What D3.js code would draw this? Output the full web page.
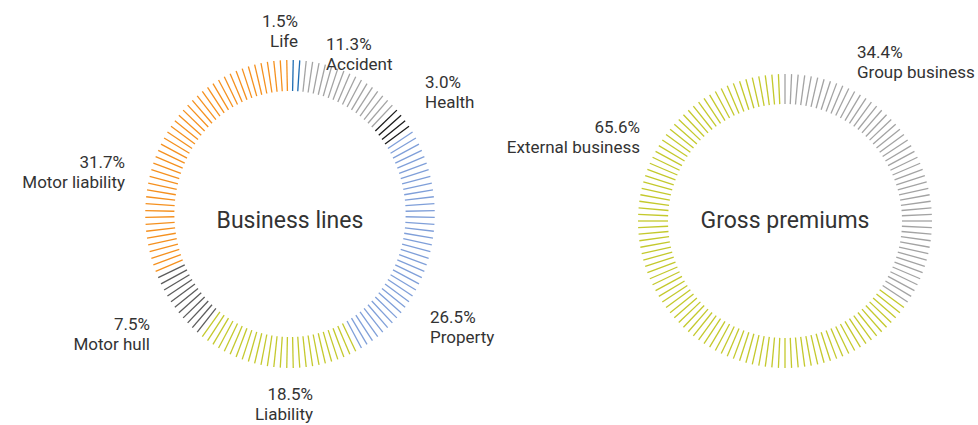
<!DOCTYPE html>
<html>
<head>
<meta charset="utf-8">
<script src="https://cdn.jsdelivr.net/npm/d3@7"></script>
<style>
  body { margin: 0; background: #fff; }
  text { font-family: Roboto, "Noto Sans", sans-serif; fill: #333; }
</style>
</head>
<body>
<script>
"use strict";

///////////////////
// data
///////////////////

var lineNames = ["Life", "Accident", "Health", "Property", "Liability", "Motor hull", "Motor liability"];
var lineShares = [1.5, 11.3, 3.0, 26.5, 18.5, 7.5, 31.7];
var lineColors = ["#1f6db3", "#a3a3a3", "#1a1a1a", "#7f9fd9", "#c4c92c", "#5c5c5c", "#f5901e"];

var premiumNames = ["Group business", "External business"];
var premiumShares = [34.4, 65.6];
var premiumColors = ["#a3a3a3", "#c4c92c"];

var ticksPerRing = 140;

///////////////////
// functions
///////////////////

// which pie slice holds a given angle
function sliceAt(arcs, angle) {
    for (var i = 0; i < arcs.length; i++) {
        if (angle >= arcs[i].startAngle && angle < arcs[i].endAngle) return arcs[i];
    }
    return arcs[arcs.length - 1];
}

function drawRing(svg, cfg) {
    var pie = d3.pie().sort(null).value(function(d) { return d.share; });
    var arcs = pie(cfg.names.map(function(n, i) {
        return { "name": n, "share": cfg.shares[i], "color": cfg.colors[i] };
    }));

    // tick index -> angle
    var angle = d3.scaleLinear()
        .domain([0, ticksPerRing])
        .range([0, 2 * Math.PI]);
    var ticks = d3.range(ticksPerRing).map(function(i) {
        var a = angle(i + cfg.shift);
        return { "a": a, "arc": sliceAt(arcs, a) };
    });

    var sx = cfg.sx || 1; // the left ring is a bit narrower than tall

    var g = svg.append("g")
        .attr("transform", "translate(" + cfg.cx + "," + cfg.cy + ")");

    g.selectAll("line")
        .data(ticks)
        .enter()
        .append("line")
        .attr("x1", function(d) { return sx * cfg.r0 * Math.sin(d.a); })
        .attr("y1", function(d) { return -cfg.r0 * Math.cos(d.a); })
        .attr("x2", function(d) { return sx * cfg.r1 * Math.sin(d.a); })
        .attr("y2", function(d) { return -cfg.r1 * Math.cos(d.a); })
        .attr("stroke", function(d) { return d.arc.data.color; })
        .attr("stroke-width", 1.3);

    g.append("text")
        .attr("text-anchor", "middle")
        .attr("y", cfg.titleY)
        .style("font-size", "23px")
        .text(cfg.title);

    // labels: [x, baseline, anchor] relative to ring centre
    var lbl = g.selectAll("g.lbl")
        .data(arcs)
        .enter()
        .append("g")
        .attr("class", "lbl")
        .attr("transform", function(d, i) {
            return "translate(" + cfg.labels[i][0] + "," + cfg.labels[i][1] + ")";
        });
    lbl.append("text")
        .attr("text-anchor", function(d, i) { return cfg.labels[i][2]; })
        .style("font-size", "17px")
        .text(function(d) { return d.data.share.toFixed(1) + "%"; });
    lbl.append("text")
        .attr("text-anchor", function(d, i) { return cfg.labels[i][2]; })
        .attr("y", 20)
        .style("font-size", "17px")
        .text(function(d) { return d.data.name; });
}

///////////////////
// draw
///////////////////

(function() {
    var svg = d3.select("body")
        .append("svg")
        .attr("width", 978)
        .attr("height", 425);

    drawRing(svg, {
        "names": lineNames, "shares": lineShares, "colors": lineColors,
        "cx": 290, "cy": 214, "r0": 123, "r1": 154, "sx": 0.94, "shift": 0.5,
        "title": "Business lines", "titleY": 14,
        "labels": [
            [8, -187, "end"],
            [36, -164, "start"],
            [135, -126, "start"],
            [140, 109, "start"],
            [23, 186, "end"],
            [-140, 116, "end"],
            [-165, -46, "end"]
        ]
    });

    drawRing(svg, {
        "names": premiumNames, "shares": premiumShares, "colors": premiumColors,
        "cx": 785, "cy": 221, "r0": 117, "r1": 147, "shift": 0,
        "title": "Gross premiums", "titleY": 7,
        "labels": [
            [72, -163, "start"],
            [-145, -88, "end"]
        ]
    });
})();
</script>
</body>
</html>
